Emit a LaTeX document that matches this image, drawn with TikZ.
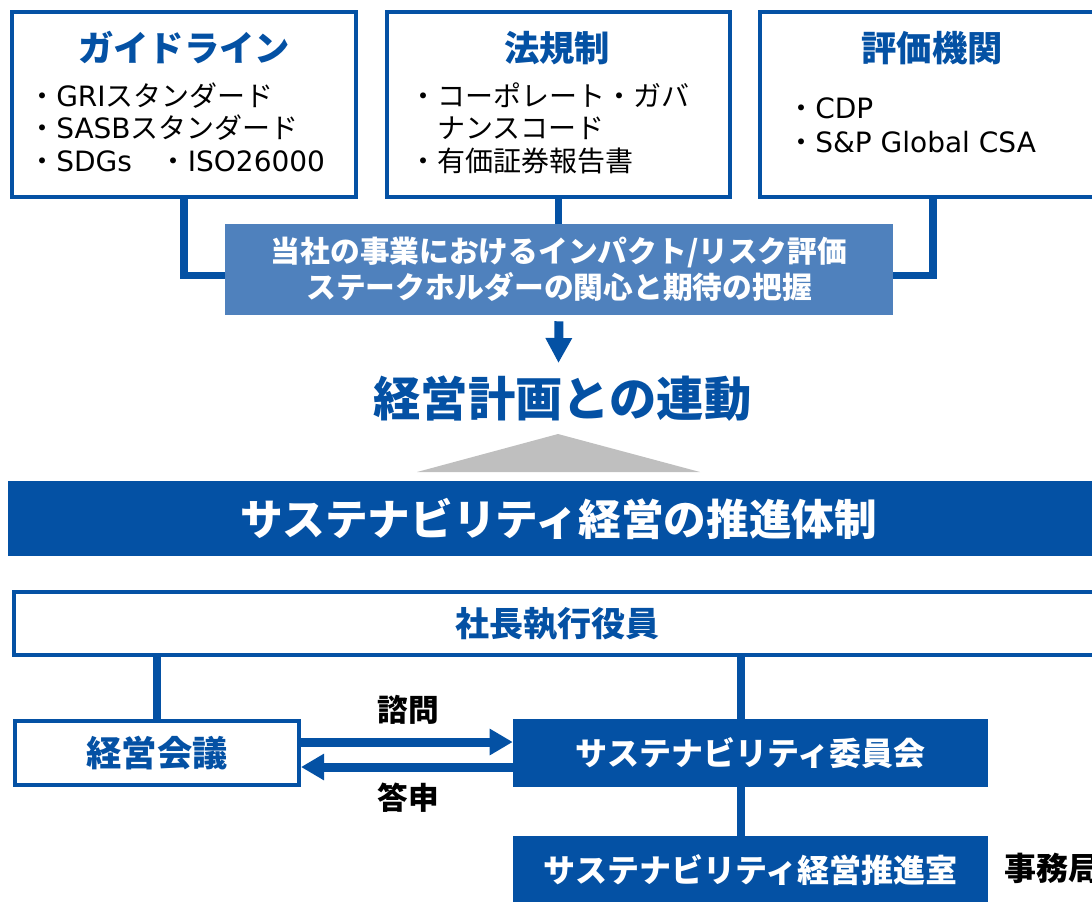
\documentclass[tikz,border=0pt]{standalone}
\usepackage{fontspec}
\setmainfont{Noto Sans CJK JP}
\newfontfamily\lat{DejaVu Sans}
\usetikzlibrary{arrows.meta}
\definecolor{dblue}{HTML}{0451A4}
\definecolor{mblue}{HTML}{4F81BD}
\definecolor{tgray}{HTML}{BFBFBF}
\newcommand\myfs[2]{\fontsize{#1}{#2}\selectfont}
\begin{document}
\begin{tikzpicture}[x=0.75pt,y=-0.75pt,
  frame/.style={draw=dblue, line width=3pt, fill=white, inner sep=0pt, rectangle},
  solidbox/.style={fill=dblue, inner sep=0pt, text=white, rectangle},
  title/.style={text=dblue, font=\myfs{26.5pt}{30pt}\bfseries, inner sep=0pt},
  bullet/.style={anchor=base west, inner sep=0pt, font=\myfs{21pt}{24pt}},
  conn/.style={draw=dblue, line width=5.8pt},
  lconn/.style={draw=dblue, line width=5.4pt},
  harr/.style={draw=dblue, line width=6.75pt, -{Triangle[length=17.25pt, width=18.75pt]}},
  darr/.style={draw=dblue, line width=6.75pt, -{Triangle[length=18.75pt, width=18.75pt]}},
  lab/.style={inner sep=0pt, font=\myfs{23pt}{26pt}\bfseries}
]
\useasboundingbox (0,0) rectangle (1092,901);
\clip (0,0) rectangle (1092,901);

% --- top three source boxes
\node[frame, minimum width=258pt, minimum height=138.75pt] (guide) at (184,104.5) {};
\node[title] (guideT) at (184,48) {ガイドライン};
\node[bullet] (g1) at (28,106) {・{\lat GRI}スタンダード};
\node[bullet] (g2) at (28,138) {・{\lat SASB}スタンダード};
\node[bullet] (g3) at (28,171) {・{\lat SDGs}　・{\lat ISO26000}};

\node[frame, minimum width=257.25pt, minimum height=138.75pt] (law) at (558.5,104.5) {};
\node[title] (lawT) at (557,48) {法規制};
\node[bullet] (l1) at (409,106) {・コーポレート・ガバ};
\node[bullet] (l2) at (437,138) {ナンスコード};
\node[bullet] (l3) at (409,171) {・有価証券報告書};

\node[frame, minimum width=259.5pt, minimum height=138.75pt] (rate) at (933,104.5) {};
\node[title] (rateT) at (932,48) {評価機関};
\node[bullet] (r1) at (787,118) {・{\lat CDP}};
\node[bullet] (r2) at (787,152) {・{\lat S\&P Global CSA}};

% --- middle assessment box
\node[fill=mblue, inner sep=0pt, minimum width=501pt, minimum height=68.25pt, text=white,
      font=\myfs{22.3pt}{27pt}\bfseries, align=center] (mid) at (559,269.5)
      {当社の事業におけるインパクト/リスク評価\\ステークホルダーの関心と期待の把握};

\draw[conn] (guide.south) |- ([yshift=-4.5pt]mid.west);
\draw[conn] (law.south) -- (law.south |- mid.north);
\draw[conn] (rate.south) |- ([yshift=-4.5pt]mid.east);

\coordinate (tip) at (558.5,363);
\draw[darr, shorten <=4.5pt] (mid.south) -- (tip);

\node[text=dblue, inner sep=0pt, font=\myfs{35.5pt}{40pt}\bfseries] (plan) at (562.5,399) {経営計画との連動};

\fill[tgray] (558,434) -- (700,472) -- (417,472) -- cycle;

\node[solidbox, minimum width=826.5pt, minimum height=56.25pt, font=\myfs{32pt}{36pt}\bfseries] (banner) at (559,518.5) {サステナビリティ経営の推進体制};

% --- organisation
\node[frame, minimum width=814.5pt, minimum height=47.25pt, text=dblue, font=\myfs{25.5pt}{30pt}\bfseries] (pres) at (557,623.5) {社長執行役員};
\node[frame, minimum width=213pt, minimum height=48pt, text=dblue, font=\myfs{26.5pt}{30pt}\bfseries] (meet) at (157,753) {経営会議};
\node[solidbox, minimum width=356.25pt, minimum height=51pt, font=\myfs{24pt}{28pt}\bfseries] (comm) at (750.5,753) {サステナビリティ委員会};
\node[solidbox, minimum width=356.25pt, minimum height=51.75pt, font=\myfs{24pt}{28pt}\bfseries] (office) at (750.5,870.5) {サステナビリティ経営推進室};
\node[anchor=west, inner sep=0pt, font=\myfs{24pt}{28pt}\bfseries] (jim) at (1004,868) {事務局};

\coordinate (cx) at (741,0);
\draw[lconn] (pres.south -| meet.north) -- (meet.north);
\draw[lconn] (pres.south -| cx) -- (comm.north -| cx);
\draw[lconn] (comm.south -| cx) -- (office.north -| cx);

\coordinate (ya) at (0,742);
\coordinate (yb) at (0,767);
\draw[harr] (meet.east |- ya) -- (comm.west |- ya);
\draw[harr] (comm.west |- yb) -- (meet.east |- yb);
\node[lab] (shimon) at (408,710) {諮問};
\node[lab] (toshin) at (408,798) {答申};
\end{tikzpicture}
\end{document}
